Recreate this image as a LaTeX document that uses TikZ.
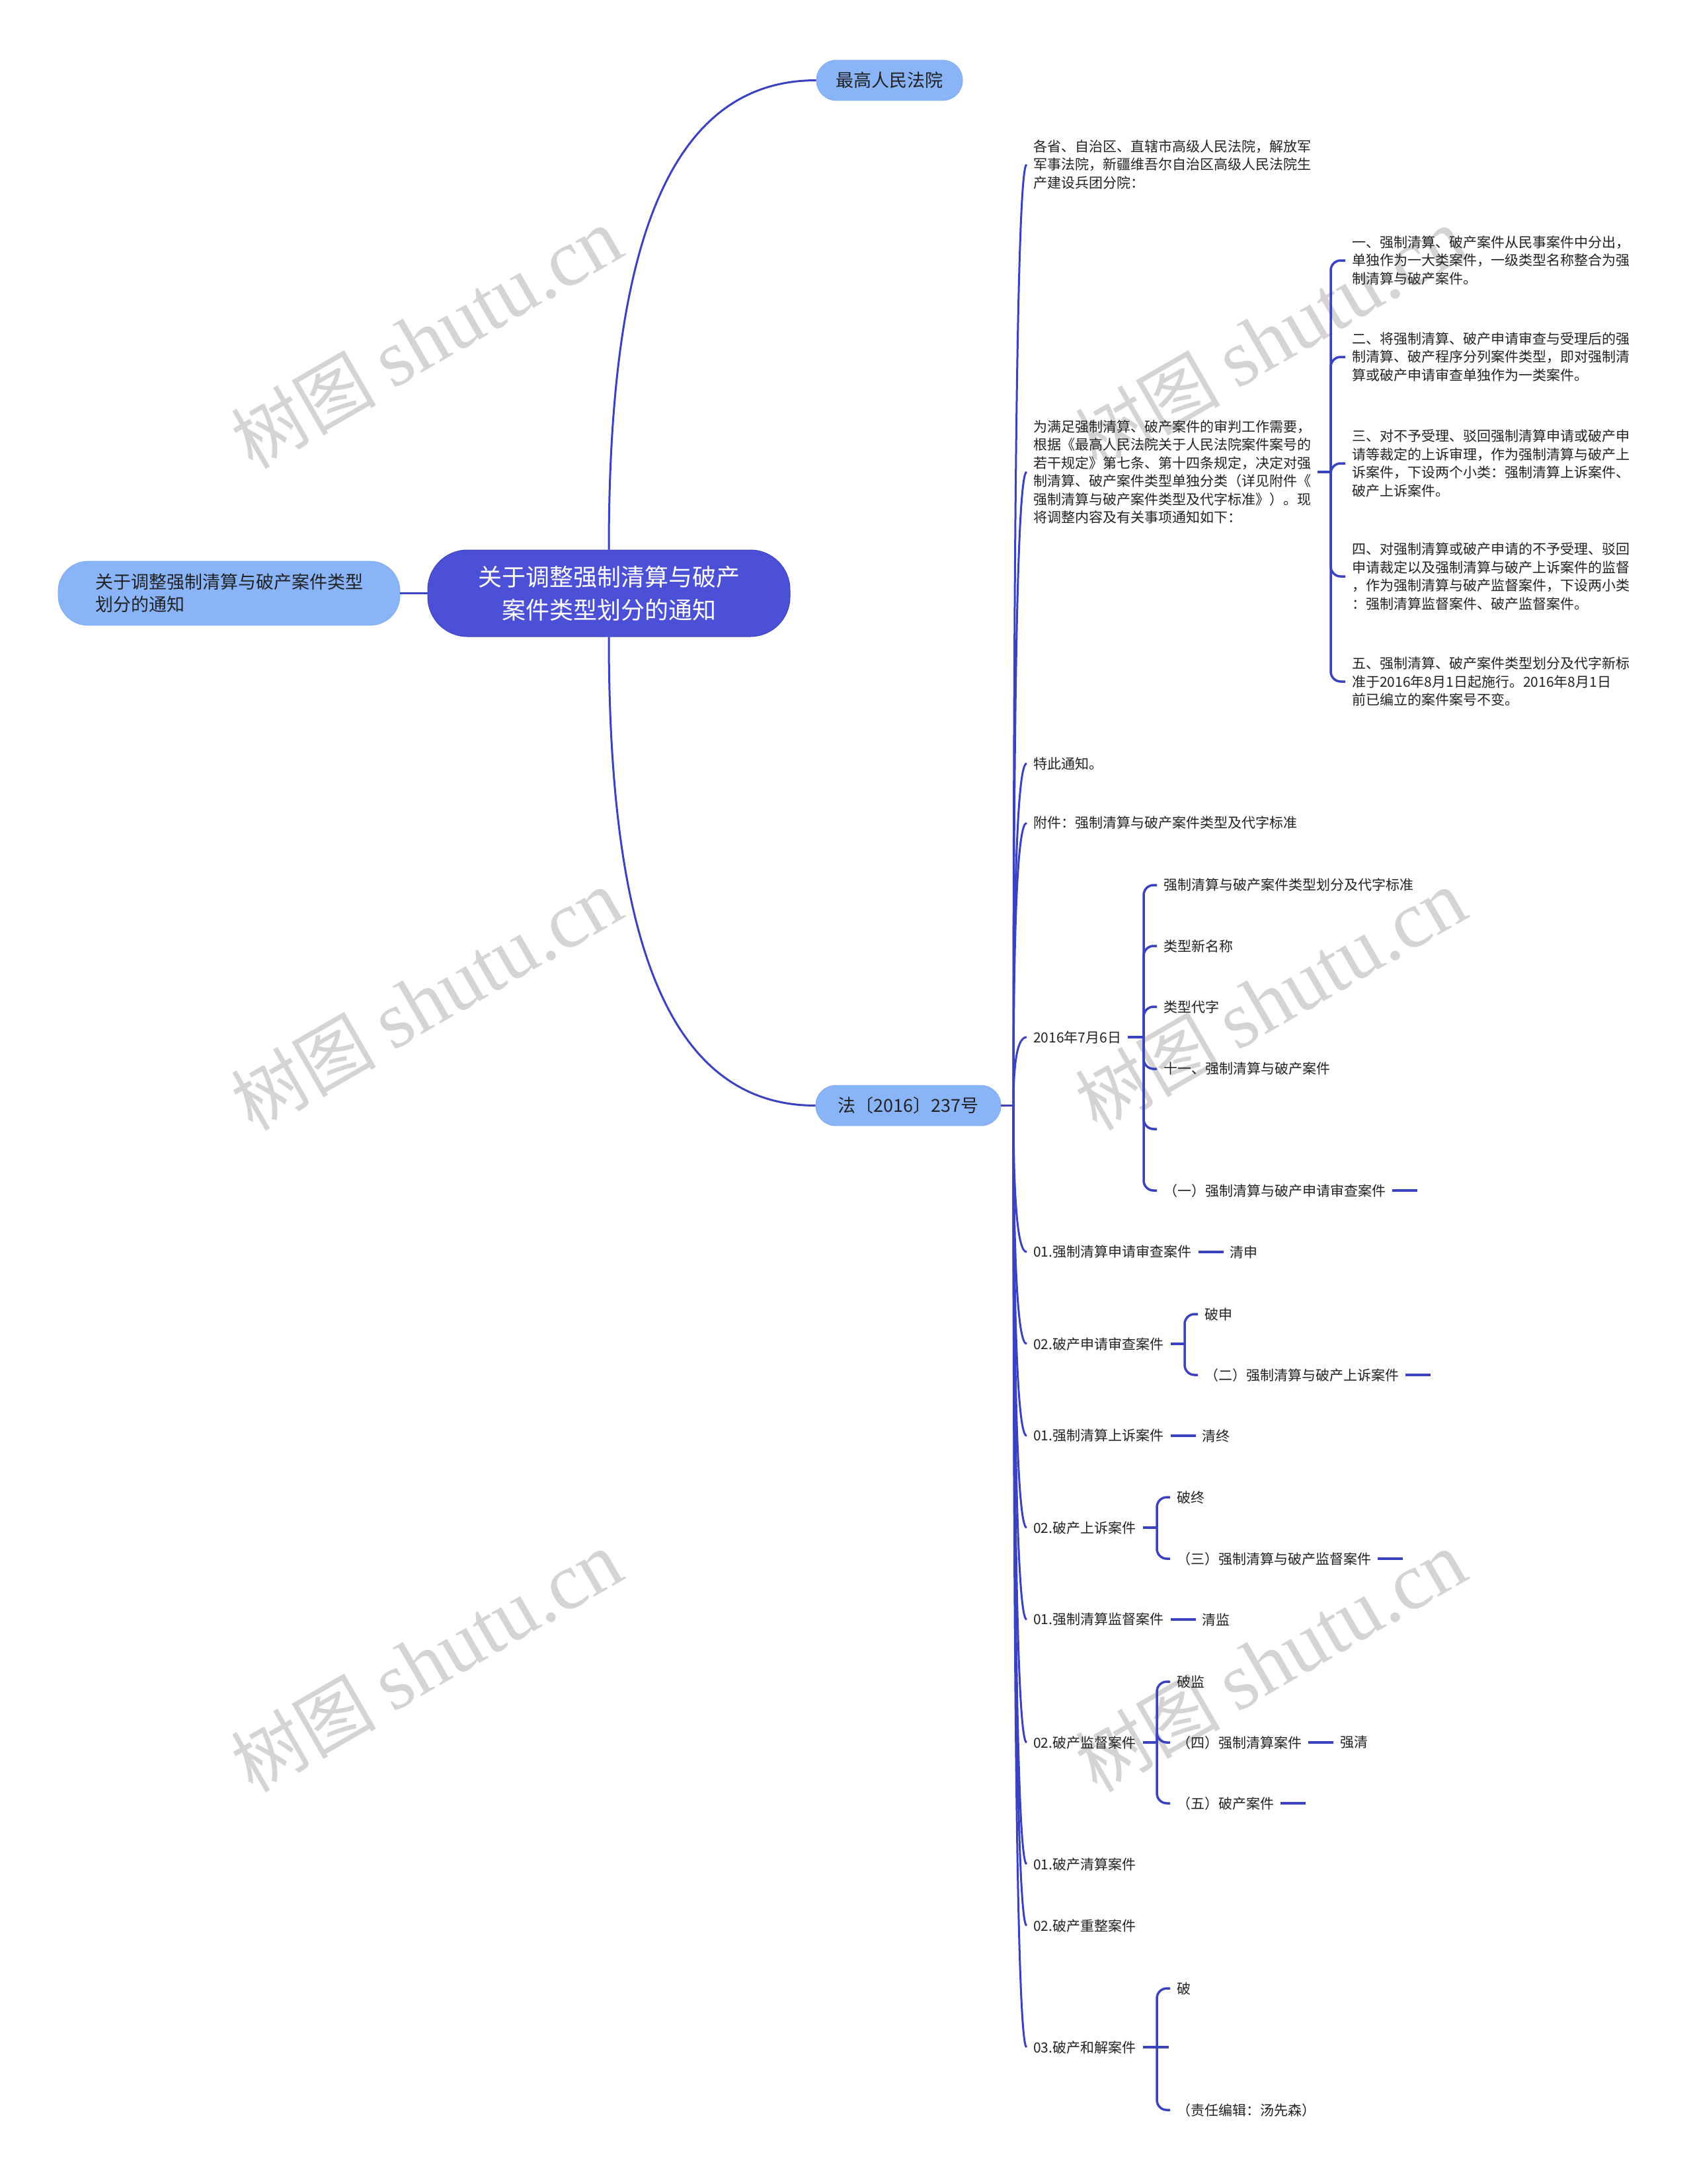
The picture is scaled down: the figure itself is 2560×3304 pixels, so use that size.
\documentclass[tikz,border=0pt]{standalone}
\usepackage{fontspec}
\setmainfont{Noto Sans CJK SC}
\newfontfamily\wmlatin{Liberation Serif}
\usetikzlibrary{calc}
\definecolor{linec}{HTML}{3B42C2}
\definecolor{rootc}{HTML}{4B50D7}
\definecolor{rootb}{HTML}{3E43C0}
\definecolor{lightc}{HTML}{8AB4F8}
\definecolor{lightb}{HTML}{7EA9F0}
\definecolor{txtc}{HTML}{222222}
\definecolor{wmc}{HTML}{D4D4D4}
\newcommand\spinecurve[1]{\draw[curve] (S) .. controls ($(S)!0.6667!(S|-#1.west)$) and ($(#1.west)+(-13.3,0)$) .. (#1.west);}
\begin{document}
\begin{tikzpicture}[x=1pt,y=-1pt,
  leaf/.style={anchor=west, inner xsep=10pt, inner ysep=2pt, align=left, text=txtc, font=\fontsize{21}{27.5}\selectfont},
  curve/.style={draw=linec, line width=3pt},
  brace/.style={draw=linec, line width=3.5pt, rounded corners=15pt},
  dashln/.style={draw=linec, line width=3.5pt},
  topnode/.style={fill=lightc, draw=lightb, line width=0.8pt, text=txtc, inner sep=0pt, font=\fontsize{27}{34}\selectfont},
  rootnode/.style={fill=rootc, draw=rootb, line width=1pt, text=white, inner sep=0pt, align=center, rounded corners=60pt, minimum width=548pt, minimum height=131pt, font=\fontsize{36}{50}\selectfont},
  wm/.style={text=wmc, rotate=30, font=\fontsize{110}{110}\selectfont, inner sep=0pt}
]
\useasboundingbox (0,0) rectangle (2560,3304);
\fill[white] (0,0) rectangle (2560,3304);

% watermarks
\foreach \wx/\wy/\wn in {645/512/1, 645/1513/2, 645/2514/3, 1922/512/4, 1922/1513/5, 1922/2514/6}{
  \node[wm] (wm\wn) at (\wx,\wy) {树图 {\wmlatin\fontsize{122}{122}\selectfont shutu.cn}};
}

% main nodes
\node[rootnode] (root) at (921,897.5) {关于调整强制清算与破产\\案件类型划分的通知};
\node[topnode, rounded corners=45pt, minimum width=517pt, minimum height=97pt, text width=405pt, align=left, inner xsep=56pt] (left) at (346.5,897.5) {关于调整强制清算与破产案件类型\\划分的通知};
\node[topnode, rounded corners=30pt, minimum width=221pt, minimum height=61pt] (zg) at (1345.5,121.5) {最高人民法院};
\node[topnode, rounded corners=30pt, minimum width=280pt, minimum height=61pt] (fa) at (1374,1672.5) {法〔2016〕237号};

\draw[curve] (left.east) -- (root.west);
\draw[curve] (root.north) .. controls (921,400) and (1000,121.5) .. (zg.west);
\draw[curve] (root.south) .. controls (921,1395) and (1000,1672.5) .. (fa.west);
\coordinate (S) at (1533,1672.5);
\draw[curve] (fa.east) -- (S);

% level 1 leaves
\node[leaf] (L1) at (1553,249) {各省、自治区、直辖市高级人民法院，解放军\\军事法院，新疆维吾尔自治区高级人民法院生\\产建设兵团分院：};
\node[leaf] (L2) at (1553,714) {为满足强制清算、破产案件的审判工作需要，\\根据《最高人民法院关于人民法院案件案号的\\若干规定》第七条、第十四条规定，决定对强\\制清算、破产案件类型单独分类（详见附件《\\强制清算与破产案件类型及代字标准》）。现\\将调整内容及有关事项通知如下：};
\node[leaf] (L3) at (1553,1155) {特此通知。};
\node[leaf] (L4) at (1553,1245) {附件：强制清算与破产案件类型及代字标准};
\node[leaf] (L5) at (1553,1569) {2016年7月6日};
\node[leaf] (L6) at (1553,1894) {01.强制清算申请审查案件};
\node[leaf] (L7) at (1553,2033) {02.破产申请审查案件};
\node[leaf] (L8) at (1553,2172) {01.强制清算上诉案件};
\node[leaf] (L9) at (1553,2311) {02.破产上诉案件};
\node[leaf] (L10) at (1553,2450) {01.强制清算监督案件};
\node[leaf] (L11) at (1553,2636) {02.破产监督案件};
\node[leaf] (L12) at (1553,2820) {01.破产清算案件};
\node[leaf] (L13) at (1553,2913) {02.破产重整案件};
\node[leaf] (L14) at (1553,3097) {03.破产和解案件};

\foreach \n in {L1,L2,L3,L4,L5,L6,L7,L8,L9,L10,L11,L12,L13,L14}{\spinecurve{\n}}

% children of L2
\coordinate (b2) at (2013,714);
\draw[dashln] (L2.east) -- (b2);
\node[leaf] (c1) at (2035,394) {一、强制清算、破产案件从民事案件中分出，\\单独作为一大类案件，一级类型名称整合为强\\制清算与破产案件。};
\node[leaf] (c2) at (2035,540) {二、将强制清算、破产申请审查与受理后的强\\制清算、破产程序分列案件类型，即对强制清\\算或破产申请审查单独作为一类案件。};
\node[leaf] (c3) at (2035,701) {三、对不予受理、驳回强制清算申请或破产申\\请等裁定的上诉审理，作为强制清算与破产上\\诉案件，下设两个小类：强制清算上诉案件、\\破产上诉案件。};
\node[leaf] (c4) at (2035,872) {四、对强制清算或破产申请的不予受理、驳回\\申请裁定以及强制清算与破产上诉案件的监督\\，作为强制清算与破产监督案件，下设两小类\\：强制清算监督案件、破产监督案件。};
\node[leaf] (c5) at (2035,1031) {五、强制清算、破产案件类型划分及代字新标\\准于2016年8月1日起施行。2016年8月1日\\前已编立的案件案号不变。};
\foreach \n in {c1,c2,c3,c4,c5}{\draw[brace] (b2) |- (\n.west);}

% children of L5
\coordinate (b5) at (1730,1569);
\draw[dashln] (L5.east) -- (b5);
\node[leaf] (d1) at (1750,1339) {强制清算与破产案件类型划分及代字标准};
\node[leaf] (d2) at (1750,1431) {类型新名称};
\node[leaf] (d3) at (1750,1523) {类型代字};
\node[leaf] (d4) at (1750,1617) {十一、强制清算与破产案件};
\coordinate (d5) at (1750,1708);
\node[leaf] (d6) at (1750,1801) {（一）强制清算与破产申请审查案件};
\foreach \n in {d1,d2,d3,d4,d6}{\draw[brace] (b5) |- (\n.west);}
\draw[brace] (b5) |- (d5);
\coordinate (d6e) at ($(d6.east)+(38,0)$);
\draw[dashln] (d6.east) -- (d6e);

% L6
\node[leaf] (q1) at ($(L6.east)+(38,0)$) {清申};
\draw[dashln] (L6.east) -- (q1.west);

% children of L7
\coordinate (b7) at (1792,2033);
\draw[dashln] (L7.east) -- (b7);
\node[leaf] (e1) at (1812,1988) {破申};
\node[leaf] (e2) at (1812,2080) {（二）强制清算与破产上诉案件};
\foreach \n in {e1,e2}{\draw[brace] (b7) |- (\n.west);}
\coordinate (e2e) at ($(e2.east)+(38,0)$);
\draw[dashln] (e2.east) -- (e2e);

% L8
\node[leaf] (q2) at ($(L8.east)+(38,0)$) {清终};
\draw[dashln] (L8.east) -- (q2.west);

% children of L9
\coordinate (b9) at (1750,2311);
\draw[dashln] (L9.east) -- (b9);
\node[leaf] (f1) at (1770,2265) {破终};
\node[leaf] (f2) at (1770,2358) {（三）强制清算与破产监督案件};
\foreach \n in {f1,f2}{\draw[brace] (b9) |- (\n.west);}
\coordinate (f2e) at ($(f2.east)+(38,0)$);
\draw[dashln] (f2.east) -- (f2e);

% L10
\node[leaf] (q3) at ($(L10.east)+(38,0)$) {清监};
\draw[dashln] (L10.east) -- (q3.west);

% children of L11
\coordinate (b11) at (1750,2636);
\draw[dashln] (L11.east) -- (b11);
\node[leaf] (g1) at (1770,2544) {破监};
\node[leaf] (g2) at (1770,2636) {（四）强制清算案件};
\node[leaf] (g3) at (1770,2728) {（五）破产案件};
\foreach \n in {g1,g2,g3}{\draw[brace] (b11) |- (\n.west);}
\node[leaf] (q4) at ($(g2.east)+(38,0)$) {强清};
\draw[dashln] (g2.east) -- (q4.west);
\coordinate (g3e) at ($(g3.east)+(38,0)$);
\draw[dashln] (g3.east) -- (g3e);

% children of L14
\coordinate (b14) at (1750,3097);
\draw[dashln] (L14.east) -- (b14);
\node[leaf] (h1) at (1770,3008) {破};
\coordinate (h2) at (1768,3097);
\node[leaf] (h3) at (1770,3192) {（责任编辑：汤先森）};
\foreach \n in {h1,h3}{\draw[brace] (b14) |- (\n.west);}
\draw[brace] (b14) -- (h2);
\end{tikzpicture}
\end{document}
